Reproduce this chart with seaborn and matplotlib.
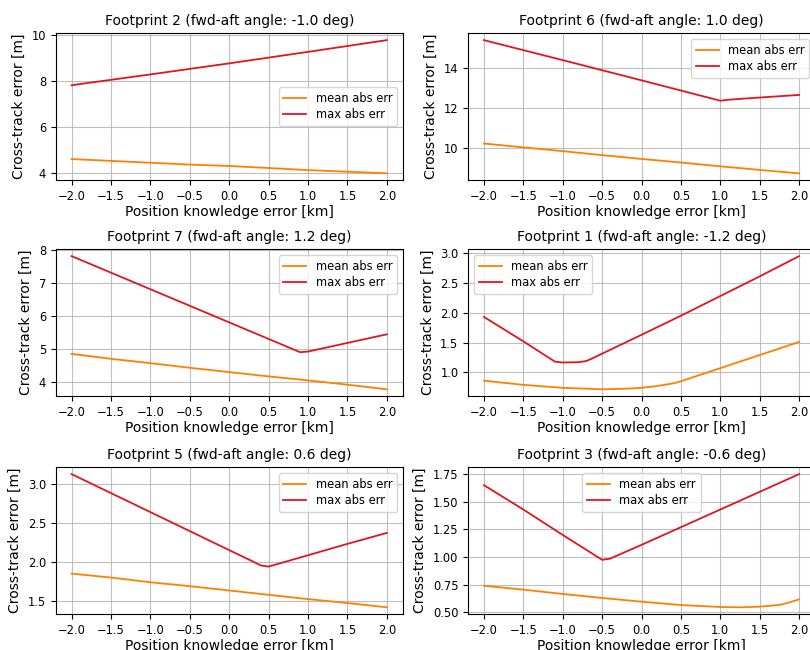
import matplotlib
matplotlib.use("Agg")
import matplotlib.pyplot as plt
import seaborn as sns
import pandas as pd

# Footprint panels, in reading order (left->right, top->bottom)
titles = [
    "Footprint 2 (fwd-aft angle: -1.0 deg)",
    "Footprint 6 (fwd-aft angle: 1.0 deg)",
    "Footprint 7 (fwd-aft angle: 1.2 deg)",
    "Footprint 1 (fwd-aft angle: -1.2 deg)",
    "Footprint 5 (fwd-aft angle: 0.6 deg)",
    "Footprint 3 (fwd-aft angle: -0.6 deg)",
]
legend_locs = ["center right", "upper right", "upper right",
               "upper left", "upper right", "upper center"]

# Position knowledge error [km] / cross-track error [m]
fp2_x_mean = [-2.0, -1.5, -1.0, -0.5, 0.0, 0.5, 1.0, 1.5, 2.0]
fp2_mean = [4.62, 4.54, 4.46, 4.38, 4.32, 4.23, 4.14, 4.07, 4.00]
fp2_x_max = [-2.0, -1.0, 0.0, 1.0, 2.0]
fp2_max = [7.83, 8.30, 8.78, 9.28, 9.79]

fp6_x_mean = [-2.0, -1.5, -1.0, -0.5, 0.0, 0.5, 1.0, 1.5, 2.0]
fp6_mean = [10.22, 10.03, 9.84, 9.64, 9.45, 9.27, 9.08, 8.90, 8.73]
fp6_x_max = [-2.0, -1.0, 0.0, 1.0, 1.1, 1.5, 2.0]
fp6_max = [15.39, 14.39, 13.38, 12.36, 12.41, 12.52, 12.65]

fp7_x_mean = [-2.0, -1.5, -1.0, -0.5, 0.0, 0.5, 1.0, 1.5, 2.0]
fp7_mean = [4.85, 4.70, 4.57, 4.43, 4.30, 4.17, 4.05, 3.92, 3.78]
fp7_x_max = [-2.0, -1.0, 0.0, 0.8, 0.9, 1.0, 1.5, 2.0]
fp7_max = [7.80, 6.80, 5.80, 5.00, 4.90, 4.92, 5.18, 5.44]

fp1_x_mean = [-2.0, -1.5, -1.0, -0.5, -0.2, 0.0, 0.2, 0.4, 0.5, 1.0, 1.5, 2.0]
fp1_mean = [0.86, 0.79, 0.74, 0.715, 0.725, 0.74, 0.77, 0.815, 0.85, 1.07, 1.29, 1.51]
fp1_x_max = [-2.0, -1.5, -1.1, -1.0, -0.8, -0.7, -0.6, 0.0, 0.5, 1.0, 1.5, 2.0]
fp1_max = [1.93, 1.52, 1.18, 1.165, 1.17, 1.19, 1.25, 1.63, 1.95, 2.28, 2.61, 2.95]

fp5_x_mean = [-2.0, -1.5, -1.0, -0.5, 0.0, 0.5, 1.0, 1.5, 2.0]
fp5_mean = [1.85, 1.80, 1.74, 1.69, 1.635, 1.58, 1.525, 1.475, 1.42]
fp5_x_max = [-2.0, -1.0, 0.0, 0.3, 0.4, 0.5, 1.0, 1.5, 2.0]
fp5_max = [3.12, 2.635, 2.15, 2.005, 1.955, 1.94, 2.085, 2.23, 2.37]

fp3_x_mean = [-2.0, -1.5, -1.0, -0.5, 0.0, 0.5, 1.0, 1.25, 1.5, 1.75, 1.8, 1.9, 2.0]
fp3_mean = [0.74, 0.705, 0.666, 0.63, 0.596, 0.566, 0.548, 0.545, 0.551, 0.567, 0.575, 0.595, 0.617]
fp3_x_max = [-2.0, -1.5, -1.0, -0.5, -0.4, 0.0, 0.5, 1.0, 1.5, 2.0]
fp3_max = [1.65, 1.43, 1.20, 0.975, 0.985, 1.11, 1.27, 1.43, 1.59, 1.75]

panels = [
    (fp2_x_mean, fp2_mean, fp2_x_max, fp2_max),
    (fp6_x_mean, fp6_mean, fp6_x_max, fp6_max),
    (fp7_x_mean, fp7_mean, fp7_x_max, fp7_max),
    (fp1_x_mean, fp1_mean, fp1_x_max, fp1_max),
    (fp5_x_mean, fp5_mean, fp5_x_max, fp5_max),
    (fp3_x_mean, fp3_mean, fp3_x_max, fp3_max),
]

palette = {"mean abs err": "#ff8000", "max abs err": "#e0161e"}
hue_order = ["mean abs err", "max abs err"]

plt.rcParams['font.family'] = 'DejaVu Sans'
fig = plt.figure(figsize=(8.1, 6.5), dpi=100)

# axes rectangles (fig fractions); right column runs slightly off the canvas
col_left = [0.069, 0.578]
row_bottom = [0.7231, 0.3908, 0.0554]
ax_w, ax_h = 0.428, 0.2254

for i, (xm, ym, xx, yx) in enumerate(panels):
    r, c = divmod(i, 2)
    ax = fig.add_axes([col_left[c], row_bottom[r], ax_w, ax_h])
    df = pd.DataFrame({
        'x': xm + xx,
        'err': ym + yx,
        'kind': ["mean abs err"] * len(xm) + ["max abs err"] * len(xx),
    })
    sns.lineplot(data=df, x='x', y='err', hue='kind', hue_order=hue_order,
                 palette=palette, linewidth=1.3, ax=ax, sort=True)
    ax.grid(True, color='#b0b0b0', linewidth=0.8, alpha=0.8)
    ax.set_axisbelow(True)
    ax.set_xticks([-2.0, -1.5, -1.0, -0.5, 0.0, 0.5, 1.0, 1.5, 2.0])
    ax.tick_params(labelsize=8.3)
    ax.set_title(titles[i], fontsize=10)
    ax.set_xlabel("Position knowledge error [km]", fontsize=10, labelpad=2)
    ax.set_ylabel("Cross-track error [m]", fontsize=10)
    sns.move_legend(ax, legend_locs[i], title=None, fontsize=8.3,
                    labelspacing=0.3)

fig.savefig("out.png", dpi=100)
